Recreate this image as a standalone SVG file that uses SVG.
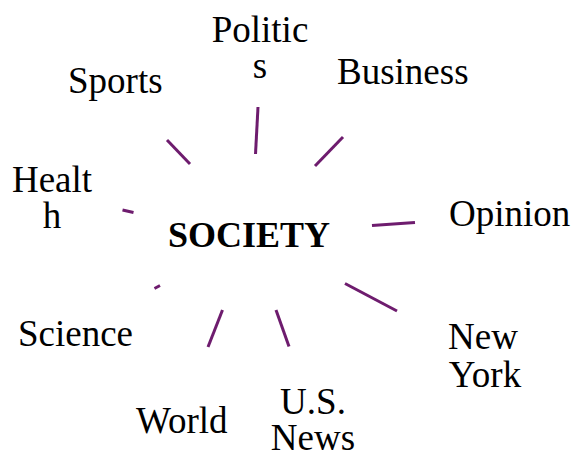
<svg xmlns="http://www.w3.org/2000/svg" width="576" height="454" viewBox="0 0 576 454">
<style>
text{font-family:"Liberation Serif","Times New Roman",serif;font-size:37px;fill:#000}
.c{text-anchor:middle}
.hub{font-weight:bold;font-size:36px}
line{stroke:#6e1c6e;stroke-width:3;stroke-linecap:butt}
</style>
<rect width="576" height="454" fill="#fff"/>
<g id="connectors">
<line x1="167" y1="140" x2="190" y2="164"/>
<line x1="258" y1="107" x2="255.5" y2="154"/>
<line x1="343" y1="137" x2="315" y2="166"/>
<line x1="122.5" y1="210" x2="133.5" y2="212.5"/>
<line x1="372" y1="225.5" x2="415" y2="222.5"/>
<line x1="154.5" y1="288.5" x2="160" y2="285.5"/>
<line x1="222.5" y1="310" x2="208" y2="347"/>
<line x1="276" y1="310" x2="289" y2="346.5"/>
<line x1="345" y1="283.5" x2="397" y2="311"/>
</g>
<g id="society"><text class="hub" x="168" y="247">SOCIETY</text></g>
<g id="politics"><text class="c" x="260" y="42">Politic</text><text class="c" x="260" y="78">s</text></g>
<g id="sports"><text x="68" y="93">Sports</text></g>
<g id="business"><text x="337" y="84">Business</text></g>
<g id="health"><text class="c" x="52" y="192">Healt</text><text class="c" x="52" y="228">h</text></g>
<g id="opinion"><text x="449" y="226">Opinion</text></g>
<g id="science"><text x="18" y="346">Science</text></g>
<g id="world"><text x="136" y="433">World</text></g>
<g id="usnews"><text class="c" x="313" y="414">U.S.</text><text class="c" x="313" y="450">News</text></g>
<g id="newyork"><text class="c" x="483" y="349">New</text><text class="c" x="485" y="387">York</text></g>
</svg>
